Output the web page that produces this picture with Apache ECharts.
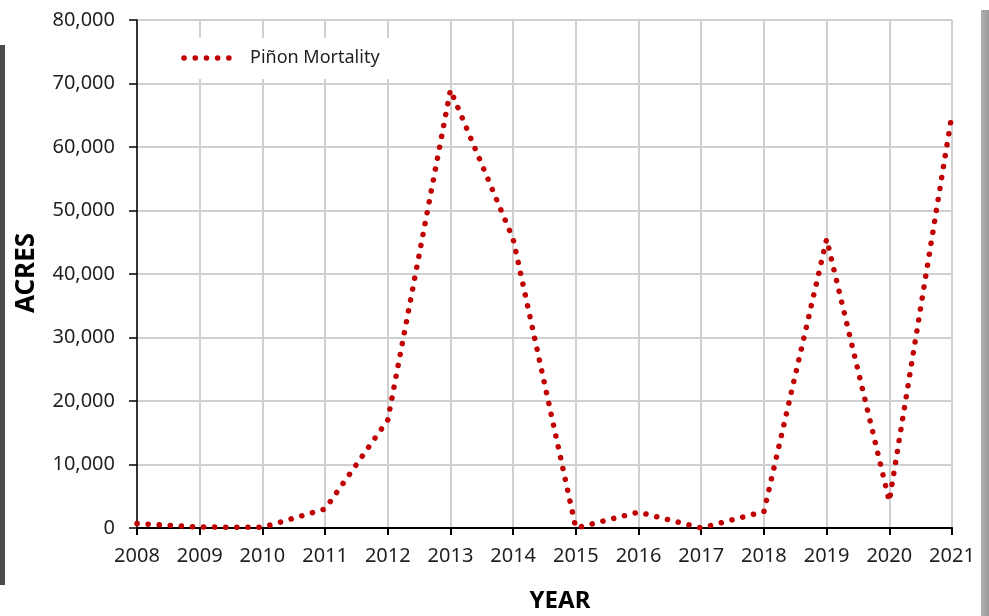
<!DOCTYPE html>
<html>
<head>
<meta charset="utf-8">
<script src="https://cdn.jsdelivr.net/npm/echarts@6/dist/echarts.min.js"></script>
<style>
  html, body { margin: 0; padding: 0; background: #fff; }
  #chart { width: 989px; height: 616px; }
</style>
</head>
<body>
<div id="chart"></div>
<script>
var years = ['2008','2009','2010','2011','2012','2013','2014','2015','2016','2017','2018','2019','2020','2021'];
var pinonMortality = [700, 150, 100, 3000, 17000, 69000, 45500, 0, 2500, 0, 2600, 45500, 4200, 65200];
var yTicks = [0, 10000, 20000, 30000, 40000, 50000, 60000, 70000, 80000];
var seriesName = 'Piñon Mortality';
var xTitle = 'YEAR';
var yTitle = 'ACRES';

var FONT = '"Noto Sans", "Open Sans", sans-serif';
var chart = echarts.init(document.getElementById('chart'), null, { renderer: 'canvas' });
chart.setOption({
  animation: false,
  backgroundColor: '#ffffff',
  grid: { left: 137, right: 37, top: 20, bottom: 88, containLabel: false },
  xAxis: {
    type: 'category',
    data: years,
    boundaryGap: false,
    axisLine: { show: true, lineStyle: { color: '#000', width: 2 } },
    axisTick: { show: true, length: 7, lineStyle: { color: '#000', width: 2 } },
    axisLabel: { color: '#1f1f1f', fontFamily: FONT, fontSize: 20, margin: 18 },
    splitLine: { show: true, lineStyle: { color: '#d0d0d0', width: 2 } }
  },
  yAxis: {
    type: 'value',
    min: yTicks[0],
    max: yTicks[yTicks.length - 1],
    interval: yTicks[1] - yTicks[0],
    axisLine: { show: true, lineStyle: { color: '#000', width: 1.5 } },
    axisTick: { show: true, length: 8, lineStyle: { color: '#000', width: 1.5 } },
    axisLabel: {
      color: '#1f1f1f', fontFamily: FONT, fontSize: 20, margin: 22,
      formatter: function (v) { return v.toLocaleString('en-US'); }
    },
    splitLine: { show: true, lineStyle: { color: '#d0d0d0', width: 2 } }
  },
  series: [{
    name: seriesName,
    type: 'line',
    data: pinonMortality,
    symbol: 'none',
    z: 5,
    lineStyle: { color: '#c00000', width: 5.5, type: [0.1, 11], cap: 'round', join: 'round' }
  }],
  graphic: [
    { type: 'rect', z: 1, shape: { x: 150, y: 38, width: 242, height: 41 }, style: { fill: '#ffffff' } },
    { type: 'line', z: 10, shape: { x1: 184, y1: 58, x2: 240, y2: 58 },
      style: { stroke: '#c00000', lineWidth: 5.5, lineDash: [0.1, 11.1], lineCap: 'round' } },
    { type: 'text', z: 10, x: 250, y: 58,
      style: { text: seriesName, fontFamily: FONT, fontSize: 18, fill: '#1f1f1f', textVerticalAlign: 'middle', verticalAlign: 'middle' } },
    { type: 'text', z: 10, x: 27, y: 273, rotation: Math.PI / 2,
      style: { text: yTitle, fontFamily: FONT, fontSize: 26, fontWeight: 'bold', fill: '#000', align: 'center', verticalAlign: 'middle' } },
    { type: 'text', z: 10, x: 560, y: 601,
      style: { text: xTitle, fontFamily: FONT, fontSize: 24, fontWeight: 'bold', fill: '#000', align: 'center', verticalAlign: 'middle' } },
    { type: 'rect', z: 10, shape: { x: 0, y: 45, width: 5, height: 540 }, style: { fill: '#4d4d4d' } },
    { type: 'rect', z: 10, shape: { x: 981, y: 10, width: 8, height: 606 },
      style: { fill: new echarts.graphic.LinearGradient(0, 0, 1, 0, [{ offset: 0, color: '#b0b0b0' }, { offset: 1, color: '#999999' }]) } }
  ]
});
</script>
</body>
</html>
